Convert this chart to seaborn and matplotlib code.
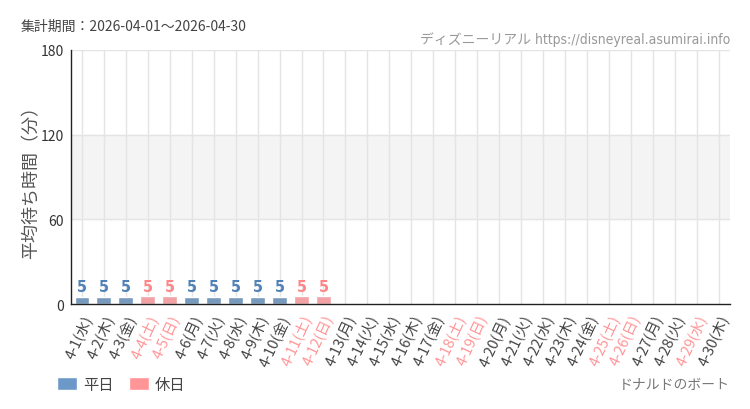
import numpy as np
import pandas as pd
import seaborn as sns
import matplotlib.pyplot as plt
from matplotlib.patches import Patch

# data
days = [f"4-{d}" for d in range(1, 31)]
weekdays = ["水", "木", "金", "土", "日", "月", "火"] * 5
weekdays = weekdays[:30]
holidays = [4, 5, 11, 12, 18, 19, 25, 26, 29]
wait_times = [5, 5, 5, 5.4, 5.4, 5, 5, 5, 5, 5, 5.4, 5.4] + [np.nan] * 18

BLUE = "#6b9ac8"
PINK = "#ff9597"
BLUE_TXT = "#4f82b8"
PINK_TXT = "#ff8587"

labels = [f"{d}({w})" for d, w in zip(days, weekdays)]
kind = ["休日" if i + 1 in holidays else "平日" for i in range(30)]
df = pd.DataFrame({"day": labels, "wait": wait_times, "kind": kind})

sns.set_style("white")
plt.rcParams["font.family"] = ["Noto Sans CJK JP", "DejaVu Sans"]
COND = ["DejaVu Sans", "Noto Sans CJK JP"]

fig = plt.figure(figsize=(7.5, 4.1), dpi=100)
ax = fig.add_axes([0.0947, 0.256, 0.878, 0.62])

ax.axhspan(60, 120, color="#f4f4f4", zorder=0)
for y in (60, 120, 180):
    ax.axhline(y, color="#e4e4e4", lw=1, zorder=0.5)
for i in range(30):
    ax.axvline(i, color="#e4e4e4", lw=1, zorder=0.5)

sns.barplot(data=df, x="day", y="wait", hue="kind", order=labels,
            hue_order=["平日", "休日"], palette=[BLUE, PINK], dodge=False,
            width=0.68, ax=ax, legend=False, zorder=2)

for i, (v, k) in enumerate(zip(wait_times, kind)):
    if np.isnan(v):
        continue
    ax.text(i, v + 2, f"{int(v)}", ha="center", va="bottom", fontsize=11.5,
            color=PINK_TXT if k == "休日" else BLUE_TXT,
            family=COND, stretch="condensed", fontweight="semibold")

ax.set_ylim(0, 180)
ax.set_xlim(-0.5, 29.5)
ax.set_yticks([0, 60, 120, 180])
ax.set_yticklabels(["0", "60", "120", "180"], fontsize=10, color="#333333")
ax.set_xticks(range(30))
ax.set_xticklabels(labels, rotation=65, ha="right", rotation_mode="anchor",
                   fontsize=10.5)
for t, k in zip(ax.get_xticklabels(), kind):
    t.set_color(PINK if k == "休日" else "#444444")
ax.tick_params(axis="both", length=4, width=1, color="#222222", direction="out")
ax.tick_params(axis="y", pad=1)
ax.tick_params(axis="x", pad=2)
ax.set_xlabel("")
ax.set_ylabel("平均待ち時間（分）", fontsize=13, color="#555555")
ax.yaxis.set_label_coords(-0.046, 0.5)
for s in ("top", "right"):
    ax.spines[s].set_visible(False)
for s in ("left", "bottom"):
    ax.spines[s].set_color("#222222")
    ax.spines[s].set_linewidth(1)

fig.text(0.027, 0.935, "集計期間：2026-04-01～2026-04-30", fontsize=10,
         color="#444444", va="center")
fig.text(0.973, 0.903, "ディズニーリアル https://disneyreal.asumirai.info",
         fontsize=10, color="#999999", ha="right", va="center",
         family=["DejaVu Sans", "Noto Sans CJK JP"], stretch="condensed")
fig.text(0.973, 0.06, "ドナルドのボート", fontsize=10, color="#777777",
         ha="right", va="center")

handles = [Patch(facecolor=BLUE, label="平日"), Patch(facecolor=PINK, label="休日")]
fig.legend(handles=handles, loc="center left", bbox_to_anchor=(0.058, 0.06),
           ncol=2, frameon=False, fontsize=11, handlelength=1.3, handleheight=0.9,
           columnspacing=1.0, handletextpad=0.4, labelcolor="#444444")

fig.savefig("out.png", dpi=100)
